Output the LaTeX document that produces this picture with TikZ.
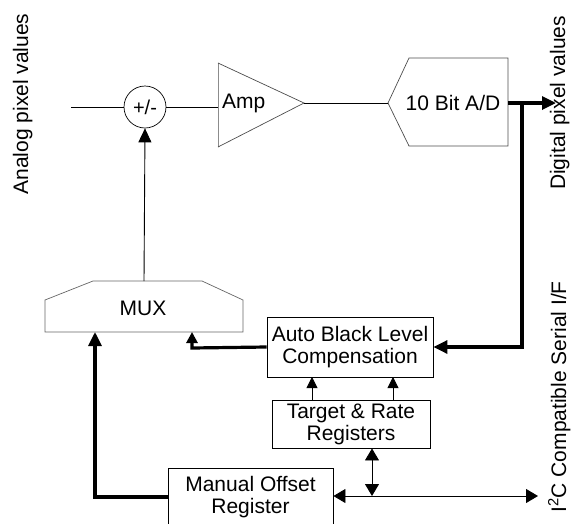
\documentclass[tikz,border=0pt]{standalone}
\usepackage{fontspec}
\setmainfont{Liberation Sans}
\usetikzlibrary{arrows.meta}
\begin{document}
\begin{tikzpicture}[x=1pt,y=-1pt,
  txt/.style={font=\fontsize{21}{22}\selectfont, inner sep=0pt},
  boxnode/.style={draw=black, line width=0.9pt, align=center, inner sep=0pt, font=\fontsize{21}{22}\selectfont},
  thin/.style={line width=0.9pt},
  thick3/.style={line width=3.2pt},
  bigtip/.style={-{Triangle[length=14pt,width=13pt]}},
  smalltip/.style={-{Triangle[length=11pt,width=11pt]}},
  dbltip/.style={{Triangle[length=12pt,width=14pt]}-{Triangle[length=12pt,width=14pt]}},
  shapeline/.style={draw=black!70, line width=0.7pt}
]
\useasboundingbox (0,0) rectangle (571,523);

% labels
\node[txt, rotate=90, anchor=base] (analog) at (28,104) {Analog pixel values};
\node[txt, rotate=90, anchor=base] (digital) at (565,103) {Digital pixel values};
\node[txt, rotate=90, anchor=base] (i2c) at (566,397) {I\textsuperscript{2}C Compatible Serial I/F};

% input and summing junction
\coordinate (in) at (71,107);
\node[circle, draw=black, line width=0.7pt, minimum size=42pt, inner sep=0pt, font=\fontsize{20}{22}\selectfont] (sum) at (145,107) {+/-};

% amplifier
\coordinate (ampin) at (218,107);
\coordinate (amptip) at (304,103);
\draw[draw=black!45, line width=0.8pt] (218,147) -- (218,63);
\draw[shapeline] (218,63) -- (amptip) -- (218,147);
\node[txt, anchor=west] (amp) at (222,103) {Amp};

% A/D converter
\coordinate (adin) at (388,103);
\coordinate (adout) at (508,103);
\draw[shapeline] (adin) -- (409,58) -- (508,58) -- (508,146) -- (409,146) -- cycle;
\node[txt] (ad) at (453,103) {10 Bit A/D};

% MUX
\draw[draw=black!60, line width=0.7pt] (45,332) -- (45,300) -- (93,281) -- (202,281) -- (243,300) -- (243,332) -- cycle;
\node[txt] (mux) at (143,308) {MUX};
\coordinate (muxtop) at (144,281);
\coordinate (muxin1) at (95,332);
\coordinate (muxin2) at (192,332);

% boxes
\node[boxnode, minimum width=166pt, minimum height=60pt] (ablc) at (350,347) {Auto Black Level\\Compensation};
\node[boxnode, minimum width=158pt, minimum height=48pt] (target) at (351,424) {Target \& Rate\\Registers};
\node[boxnode, minimum width=165pt, minimum height=58pt] (manual) at (250.5,497) {Manual Offset\\Register};

% signal path
\draw[thin] (in) -- (sum.west);
\draw[thin] (sum.east) -- (ampin);
\draw[thin] (amptip) -- (adin);
\coordinate (junc) at (522,103);
\coordinate (outtip) at (556,103);
\draw[thick3, bigtip] (adout) -- (outtip);
\draw[thick3, bigtip] (junc) -- (522,347) -- (ablc.east);

% mux to sum
\draw[thin, bigtip] (muxtop) -- (sum.south);

% feedback to mux
\draw[thick3, bigtip] (manual.west) -- (95,497) -- (muxin1);
\draw[thick3, smalltip] (ablc.west) -- (192,348) -- (muxin2);

% target to ablc
\draw[thin, smalltip] (312,400) -- (312,377);
\draw[thin, smalltip] (393,400) -- (393,377);

% serial bus
\coordinate (busr) at (538,496);
\coordinate (busj) at (372,496);
\draw[thin, dbltip] (target.south -| busj) -- (busj);
\draw[thin, dbltip] (manual.east |- busr) -- (busr);
\end{tikzpicture}
\end{document}
